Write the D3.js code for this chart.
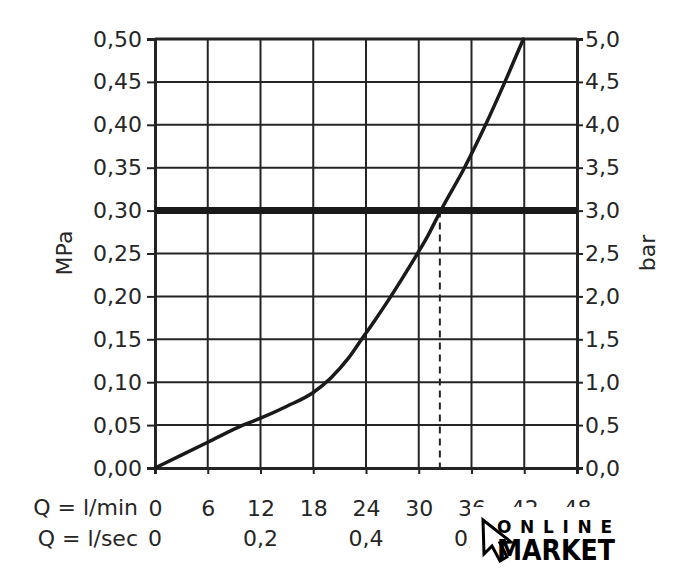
<!DOCTYPE html>
<html><head><meta charset="utf-8">
<script src="https://cdn.jsdelivr.net/npm/d3@7"></script>
<style>
html,body{margin:0;padding:0;background:#fff;}
text{font-family:"DejaVu Sans",sans-serif;fill:#262626;}
</style></head>
<body>
<svg id="chart" width="680" height="576"></svg>
<script>
// ---- data ----
const flowLmin = [0, 6, 10, 12, 15, 18, 20, 22, 23.5, 25, 26.7, 28, 29.8, 31, 32.5, 35.2, 37.6, 39.8, 41.9];
const pressureMPa = [0, 0.030, 0.050, 0.058, 0.072, 0.088, 0.105, 0.128, 0.150, 0.172, 0.198, 0.219, 0.249, 0.270, 0.300, 0.350, 0.400, 0.450, 0.500];
const lminTicks = [0, 6, 12, 18, 24, 30, 36, 42, 48];
const lsecTicks = [0, 12, 24, 36];           // positions in l/min
const lsecLabels = ["0", "0,2", "0,4", "0,6"];
const mpaTicks = [0, 0.05, 0.10, 0.15, 0.20, 0.25, 0.30, 0.35, 0.40, 0.45, 0.50];
const barTicks = [0, 0.5, 1.0, 1.5, 2.0, 2.5, 3.0, 3.5, 4.0, 4.5, 5.0];
const referencePressure = 0.30;
const operatingFlow = 32.4;

const loc = d3.formatLocale({decimal: ",", thousands: ".", grouping: [3], currency: ["", ""]});
const f2 = loc.format(".2f"), f1 = loc.format(".1f");

const svg = d3.select("#chart");
const L = 155, R = 577, T = 39, B = 468;
const x = d3.scaleLinear().domain([0, 48]).range([L, R]);
const y = d3.scaleLinear().domain([0, 0.5]).range([B, T]);
const yb = d3.scaleLinear().domain([0, 5]).range([B, T]);
const ink = "#242424";

// grid
svg.append("g").selectAll("line").data(lminTicks.slice(1, -1)).join("line")
  .attr("x1", d => x(d)).attr("x2", d => x(d)).attr("y1", T).attr("y2", B)
  .attr("stroke", ink).attr("stroke-width", 2);
svg.append("g").selectAll("line").data(mpaTicks.slice(1, -1)).join("line")
  .attr("x1", L).attr("x2", R).attr("y1", d => y(d)).attr("y2", d => y(d))
  .attr("stroke", ink).attr("stroke-width", 2);

// axes
const fs = "22px";
const ax = svg.append("g").attr("transform", `translate(${L},0)`)
  .call(d3.axisLeft(y).tickValues(mpaTicks).tickFormat(f2).tickSize(8).tickPadding(5));
const ar = svg.append("g").attr("transform", `translate(${R},0)`)
  .call(d3.axisRight(yb).tickValues(barTicks).tickFormat(f1).tickSize(6).tickPadding(2));
const ab = svg.append("g").attr("transform", `translate(0,${B})`)
  .call(d3.axisBottom(x).tickValues(lminTicks).tickFormat(d => d).tickSize(6).tickPadding(29));
[ax, ar, ab].forEach(g => {
  g.select(".domain").attr("stroke", ink).attr("stroke-width", 3);
  g.selectAll(".tick line").attr("stroke", ink).attr("stroke-width", 2);
  g.selectAll(".tick text").attr("font-size", fs).attr("fill", "#262626")
    .style("font-family", '"DejaVu Sans",sans-serif');
});
ab.selectAll(".tick text").attr("dy", "0.6em");
// top border
svg.append("line").attr("x1", L).attr("x2", R).attr("y1", T).attr("y2", T)
  .attr("stroke", ink).attr("stroke-width", 3);

// second x label row (l/sec)
svg.append("g").selectAll("text").data(lsecTicks).join("text")
  .attr("x", d => x(d)).attr("y", 546).attr("text-anchor", "middle")
  .attr("font-size", fs).text((d, i) => lsecLabels[i]);

// row titles
svg.append("text").attr("x", 138).attr("y", 515).attr("text-anchor", "end")
  .attr("font-size", fs).text("Q = l/min");
svg.append("text").attr("x", 138).attr("y", 546).attr("text-anchor", "end")
  .attr("font-size", fs).text("Q = l/sec");

// axis titles
svg.append("text").attr("transform", `translate(72,253) rotate(-90)`)
  .attr("text-anchor", "middle").attr("font-size", fs).text("MPa");
svg.append("text").attr("transform", `translate(655,253) rotate(-90)`)
  .attr("text-anchor", "middle").attr("font-size", fs).text("bar");

// dashed operating line
svg.append("line").attr("x1", x(operatingFlow)).attr("x2", x(operatingFlow))
  .attr("y1", y(referencePressure)).attr("y2", B)
  .attr("stroke", ink).attr("stroke-width", 2).attr("stroke-dasharray", "7,5");

// thick reference line
svg.append("line").attr("x1", L).attr("x2", R)
  .attr("y1", y(referencePressure)).attr("y2", y(referencePressure))
  .attr("stroke", "#1a1a1a").attr("stroke-width", 7);

// curve
const pts = flowLmin.map((q, i) => [q, pressureMPa[i]]);
svg.append("path").datum(pts)
  .attr("d", d3.line().x(d => x(d[0])).y(d => y(d[1])).curve(d3.curveMonotoneX))
  .attr("fill", "none").attr("stroke", "#1a1a1a").attr("stroke-width", 3.5)
  .attr("stroke-linecap", "round");

// watermark
const wm = svg.append("g");
wm.append("rect").attr("x", 470).attr("y", 507).attr("width", 155).attr("height", 62).attr("fill", "#fff");
wm.append("path").attr("d", "M483,520 L484,554 L492,546 L500,561 L507,557 L500,543 L511,542 Z")
  .attr("fill", "#fff").attr("stroke", "#000").attr("stroke-width", 3).attr("stroke-linejoin", "miter");
wm.append("text").attr("x", 497).attr("y", 533).attr("font-size", "17px").attr("font-weight", "bold")
  .attr("textLength", 115).attr("lengthAdjust", "spacing").style("fill", "#000").text("ONLINE");
wm.append("text").attr("x", 497).attr("y", 560).attr("font-size", "29px").attr("font-weight", "bold")
  .style("font-family", '"DejaVu Sans Condensed","DejaVu Sans",sans-serif')
  .attr("textLength", 118).attr("lengthAdjust", "spacingAndGlyphs").style("fill", "#000").text("MARKET");
</script>
</body></html>
